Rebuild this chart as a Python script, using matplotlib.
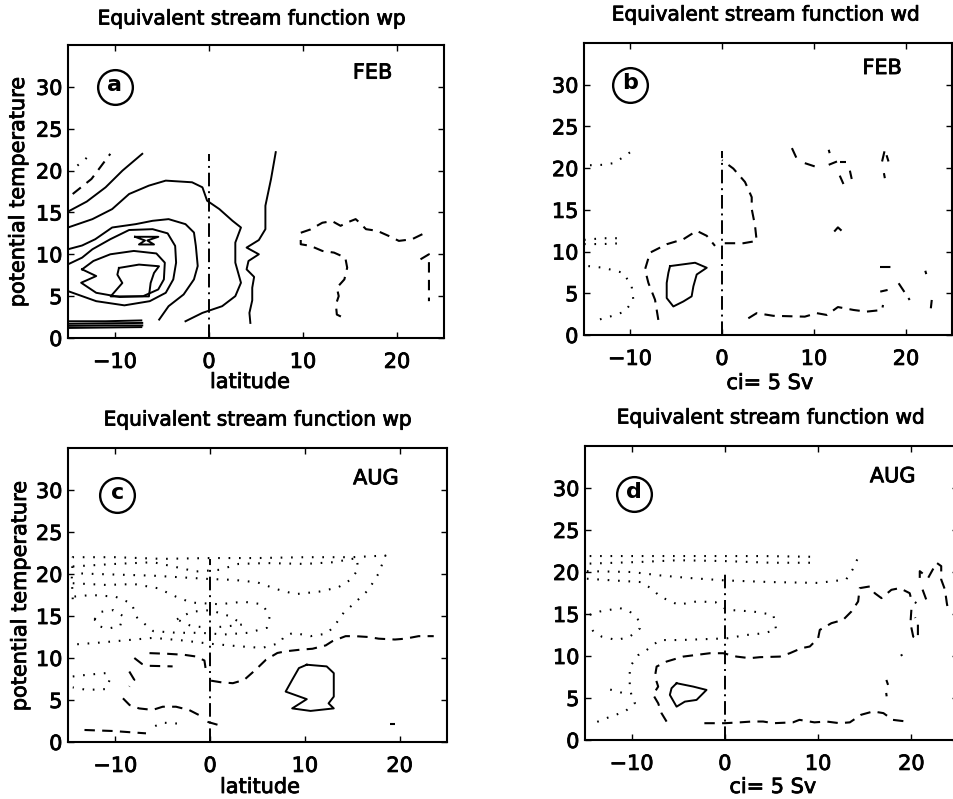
import matplotlib
matplotlib.use('Agg')
import matplotlib.pyplot as plt
import matplotlib.patheffects as pe
import numpy as np

plt.rcParams['font.family'] = ['DejaVu Sans']

W, H = 954, 799

# ---------------- data: contour lines (lat, theta) ----------------
# panel a : wp, FEB
a_solid = [
    [(-15, 15.1), (-13, 16.3), (-11, 18), (-9.2, 20), (-7.1, 22)],
    [(-15, 13.2), (-12.4, 14.2), (-10.3, 15.4), (-8.5, 17.2), (-6.4, 18.2), (-4.6, 18.8), (-1.8, 18.6),
     (-0.7, 18.0), (-0.2, 16.4), (1.1, 15.4), (2.5, 14.0), (3.4, 13.2), (2.8, 11.4), (2.8, 9.0),
     (3.4, 6.6), (2.8, 5.0), (1.4, 3.8), (-0.7, 3.0), (-2.5, 2.0)],
    [(-15, 10.6), (-13.5, 11.05), (-12.1, 11.8), (-10.3, 13.2), (-7.8, 13.6), (-6.0, 14.0), (-4.3, 14.2),
     (-2.5, 13.6), (-1.6, 12.6), (-1.4, 11.0), (-1.2, 8.6), (-1.6, 7.0), (-2.7, 5.2), (-4.3, 3.8), (-5.3, 2.2)],
    [(-15, 8.8), (-13.5, 9.6), (-12.4, 10.6), (-10.5, 11.8), (-8.5, 12.9), (-6, 13.0), (-4.4, 12.5),
     (-3.6, 11), (-3.5, 9), (-3.8, 7), (-4.6, 5.4), (-6.3, 4.4), (-9, 3.9), (-12, 4.4), (-15, 5.6)],
    [(-7.87, 12.09), (-5.39, 12.09), (-6.56, 11.65), (-5.85, 11.17), (-7.45, 11.17), (-6.81, 11.65), (-7.87, 12.09)],
    [(-13.5, 8.2), (-12.3, 9.2), (-10.5, 10.0), (-8, 10.4), (-5.6, 10.1), (-4.7, 9), (-4.8, 7), (-5.4, 5.8),
     (-7, 5), (-9.5, 4.9), (-12, 5.4), (-13.6, 6.6), (-12.0, 7.4), (-13.5, 8.2)],
    [(-9.58, 8.37), (-7.45, 8.77), (-5.32, 8.57), (-5.85, 7.77), (-6.21, 6.57), (-6.39, 4.97),
     (-10.46, 4.97), (-9.22, 6.57), (-9.75, 7.57), (-9.58, 8.37)],
    [(-15, 2.0), (-11, 2.0), (-7.2, 2.1)],
    [(-15, 1.7), (-11, 1.75), (-7.1, 1.8)],
    [(-15, 1.45), (-11, 1.5), (-7.1, 1.5)],
    [(-15, 1.2), (-11, 1.25), (-7.2, 1.3)],
    [(7.1, 22.2), (6.6, 19), (6.0, 15.8), (6.0, 13), (5.3, 11.7), (4.0, 10.8), (5.3, 10.0), (4.2, 9.2),
     (4.0, 8.2), (4.8, 7.3), (4.6, 6.0), (4.6, 4.5), (4.3, 3.0), (4.4, 1.8)],
]
a_dashed = [
    [(-14.5, 17.2), (-12.5, 19), (-10.5, 22)],
    [(22.7, 12.4), (21.6, 11.8), (20.2, 11.6), (19.1, 12.2), (17.9, 12.8), (16.7, 13.0), (16.0, 13.8),
     (15.6, 14.2), (14.7, 13.8), (14.0, 13.4), (13.1, 13.96), (12.06, 13.77), (10.8, 12.97), (9.76, 12.57),
     (9.76, 11.2), (10.8, 11.0), (12.06, 10.4), (13.3, 10.2), (14.5, 9.6), (14.7, 8.4), (14.4, 7.0),
     (13.6, 6.0), (13.8, 5.0), (13.5, 4.0), (13.6, 2.8), (14.7, 2.2)],
    [(22.5, 9.4), (23.4, 10.0), (23.4, 8.4), (23.4, 5.4), (23.4, 4.4)],
]
a_dotted = [
    [(-14, 20.6), (-13.3, 21.2), (-12.6, 22)],
]

# panel b : wd, FEB
b_solid = [
    [(-5.65, 8.26), (-2.93, 8.66), (-1.66, 8.06), (-2.75, 7.25), (-3.11, 5.84), (-3.3, 4.63), (-4.2, 4.02),
     (-5.29, 3.42), (-6.01, 4.43), (-6.01, 6.24), (-5.83, 7.45), (-5.65, 8.26)],
]
b_dashed = [
    [(-6.92, 1.81), (-7.28, 4.23), (-8.0, 6.24), (-8.37, 7.85), (-7.82, 9.87), (-6.01, 10.88), (-4.2, 11.48),
     (-2.75, 12.49), (-1.66, 11.89), (-0.76, 10.68)],
    [(0.3, 11.0), (2.32, 11.0), (3.77, 11.28), (3.59, 13.1), (3.23, 15.11), (3.23, 16.52), (2.5, 18.34),
     (1.23, 19.95), (0.0, 20.96)],
    [(2.86, 2.0), (3.77, 2.62), (5.58, 2.3), (9.0, 2.2), (10.3, 2.62), (11.4, 2.4), (12.6, 3.35),
     (14.3, 3.0), (15.7, 2.8), (17.4, 3.0), (17.5, 3.6)],
    [(17.2, 8.2), (18.6, 8.2)],
    [(17.2, 5.2), (18.0, 5.4)],
    [(19.2, 6.2), (20.4, 4.2)],
    [(22.8, 4.2), (22.7, 3.2)],
    [(22.1, 7.7), (22.2, 7.3)],
    [(7.6, 22.4), (8.1, 21.2)],
    [(9.0, 20.6), (10.1, 20.2)],
    [(11.6, 20.4), (12.5, 20.8)],
    [(12.8, 20.7), (13.5, 20.7)],
    [(12.8, 19.1), (13.2, 18.1)],
    [(13.9, 19.7), (14.1, 18.7)],
    [(11.6, 22.2), (11.7, 21.8)],
    [(17.4, 20.8), (17.7, 22.2), (18.1, 20.8)],
    [(17.6, 19.4), (17.7, 18.8)],
    [(12.2, 12.4), (12.6, 12.9), (13.1, 12.4)],
]
b_dotted = [
    [(-14.35, 20.35), (-12.9, 20.4), (-11.8, 20.6), (-10.9, 21.2), (-9.6, 22.2)],
    [(-15, 11.4), (-13, 11.6), (-10.8, 11.6)],
    [(-15, 10.9), (-13, 10.9), (-10.8, 11.0)],
    [(-14.53, 8.26), (-12.9, 8.06), (-10.72, 7.45), (-9.82, 5.84), (-9.64, 4.23), (-10.54, 2.81),
     (-12.17, 2.21), (-14.17, 1.6)],
]

# panel c : wp, AUG
c_solid = [
    [(10.2, 9.2), (12.3, 9.0), (13.05, 8.2), (13.05, 5.4), (12.5, 4.6), (13.05, 4.0), (10.6, 3.7),
     (8.66, 4.0), (10.2, 5.1), (7.97, 6.0), (8.66, 7.4), (9.37, 8.8), (10.2, 9.2)],
]
c_dashed = [
    [(-13.26, 1.43), (-10.28, 1.31), (-6.77, 1.03)],
    [(-8.0, 10.0), (-7.2, 9.3), (-6.4, 9.07), (-3.96, 9.0)],
    [(-6.4, 10.58), (-4.5, 10.5), (-2.74, 10.38), (-1.5, 10.18), (-0.6, 9.7), (-0.46, 8.6)],
    [(-8.53, 8.39), (-8.0, 7.4), (-8.53, 6.6)],
    [(-9.2, 5.2), (-8.5, 4.4), (-7.5, 4.0), (-6.07, 3.82), (-5.0, 4.2), (-3.6, 4.2), (-2.2, 3.8), (-1.16, 3.2)],
    [(-0.28, 2.4), (0.95, 2.0)],
    [(0.1, 7.3), (1.2, 7.1), (2.4, 7.0), (3.6, 7.4), (4.8, 8.6), (5.9, 9.8), (7.1, 10.6), (8, 10.8),
     (9.6, 11.0), (10.8, 11.1), (12.2, 11.5), (12.9, 12), (14.3, 12.6), (15.3, 12.6), (16.7, 12.5),
     (17.8, 12.3), (19.5, 12.2), (20.6, 12.3), (22, 12.6), (23.6, 12.6)],
    [(19.0, 2.1), (19.5, 2.1)],
]
c_dotted = [
    [(-14.5, 17.0), (-14.6, 19.5), (-14.5, 22.0), (-10, 22.0), (-5, 21.8), (0, 21.9), (5, 21.9), (10, 22.0),
     (15, 22.0), (18.5, 22.2), (17.8, 20.1), (16.7, 18.1), (15.3, 16.6), (14.1, 15.4), (13.1, 13.8),
     (12.3, 12.9), (10.6, 12.6), (8.8, 13.0), (7.8, 12.6), (7.4, 11.8), (5.5, 11.2), (3, 11.4), (0, 11.7),
     (-3, 12.1), (-6, 12.4), (-9, 12.1), (-12, 11.8), (-14.5, 11.6)],
    [(-14.5, 20.9), (-10, 21.2), (-6, 21.4), (-3.5, 20.8), (-1.5, 20.3), (1, 20.5), (3, 21.2), (6, 21.3),
     (10, 21.2), (13, 21.4), (15.5, 21.9), (15.6, 20.5), (14.8, 19.3), (13.5, 18.4), (11.5, 17.9), (9, 17.6),
     (7, 18.2), (5, 19.0), (2.5, 19.3), (0, 19.4), (-3, 19.6), (-6, 19.8), (-9, 19.9), (-12, 20.0), (-14.5, 20.1)],
    [(-14.5, 18.9), (-11, 18.7), (-8, 18.8), (-5.5, 18.3), (-3.6, 17.3), (-2, 16.6), (1, 16.4), (3.5, 16.7),
     (5.5, 16.4), (6.3, 15.0), (6.0, 13.6), (4, 13.0), (1.5, 12.8), (-1, 13.0), (-3.5, 13.0), (-6, 13.2),
     (-7.7, 14.8), (-8.3, 16.5), (-10, 17.3), (-12.5, 17.5), (-14.5, 17.3)],
    [(-12.2, 14.6), (-11.5, 15.5), (-10.2, 15.7), (-9.2, 15), (-9.5, 13.8), (-10.8, 13.5), (-11.8, 13.8), (-12.2, 14.6)],
    [(-3.5, 14.6), (-2, 15.5), (0, 15.7), (2, 15), (3.5, 14), (2, 13.8), (0, 13.6), (-2, 13.8), (-3.5, 14.6)],
    [(-14.5, 7.8), (-13, 8.0), (-11, 8.2), (-10.6, 7.4), (-11, 6.3), (-13, 6.2), (-14.5, 6.5)],
    [(-5.8, 1.9), (-5, 2.3), (-3.5, 2.2), (-2.8, 2.0)],
]

# panel d : wd, AUG
d_solid = [
    [(-5.18, 6.76), (-3.4, 6.36), (-1.97, 5.96), (-3.04, 4.77), (-4.29, 4.57), (-5.18, 3.97), (-5.9, 5.37),
     (-5.72, 6.16), (-5.18, 6.76)],
]
d_dashed = [
    [(-6.25, 2.19), (-6.8, 3.2), (-7.15, 4.37), (-7.7, 5.4), (-7.15, 6.36), (-7.5, 7.55), (-7.32, 8.74),
     (-6.25, 9.34), (-4.47, 9.93), (-3.04, 10.13), (-1.61, 10.33), (-0.18, 10.33), (1.25, 9.93), (2.68, 9.74),
     (3.75, 9.86), (5.9, 9.93), (6.96, 10.33), (8.21, 10.93), (9.11, 11.13), (10.0, 12.12), (10.18, 13.11),
     (11.43, 13.91), (12.68, 14.3), (13.57, 15.3), (14.29, 16.49), (14.46, 18.08), (15.54, 18.28),
     (16.07, 17.48), (16.79, 16.89), (17.86, 17.88), (18.75, 18.08), (19.82, 17.48), (20.0, 16.69), (20.54, 16.29)],
    [(-2.2, 2.0), (-1, 2.0), (0, 2.0), (1.6, 2.1), (2.9, 2.2), (4.1, 2.2), (5.2, 2.0), (7.3, 2.1), (8, 2.4),
     (9.6, 2.1), (10.9, 2.2), (12.3, 2.0), (13.4, 2.1), (14.6, 3.0), (15.9, 3.4), (17, 3.2), (18, 2.4), (19.5, 2.2)],
    [(20.0, 15.5), (19.9, 13.9), (20.2, 12.3), (20.7, 12.1), (20.7, 13.9), (20.4, 14.6)],
    [(20.9, 19.3), (20.9, 20.1), (21.8, 19.3), (22.7, 21.1), (23.2, 20.7), (23.2, 19.1), (23.6, 17.9),
     (23.8, 16.3), (23.9, 15.7)],
    [(21.2, 17.9), (21.6, 16.7)],
    [(18.9, 10.2), (19.0, 10.0)],
    [(17.32, 7.15), (17.5, 6.56)],
    [(17.3, 5.6), (17.35, 5.2)],
]
d_dotted = [
    [(-14.5, 21.9), (-8, 21.9), (-2, 21.9), (4, 21.9), (10, 21.8)],
    [(-14.5, 21.0), (-9, 21.2), (-5, 21.4), (0, 21.3), (5, 21.1), (9.5, 21.1)],
    [(-14.8, 20.1), (-10, 20), (-7, 19.6), (-4, 19.3), (0, 19.0), (5, 18.8), (10, 18.7), (13, 19.1),
     (13.7, 20.3), (14.4, 22)],
    [(-14.8, 19.2), (-12, 19.0), (-9, 18.8), (-7.7, 17.9), (-7, 17.1), (-5, 16.1), (-3, 16.5), (-1, 16.4),
     (0.2, 15.5), (3, 15.3), (5.2, 14.9), (5.5, 13.1), (4.1, 12.7), (2.3, 12.5), (0.2, 12.1), (-2.3, 12.0),
     (-4.8, 11.9), (-7.0, 11.9), (-8.4, 10.7), (-9.3, 10.1), (-10.2, 8.7), (-10.2, 7.5), (-10.2, 6.4),
     (-10.0, 5.2), (-9.65, 4.4), (-10.7, 3.4), (-12.7, 2.6), (-14.5, 1.8)],
    [(-14.5, 14.9), (-13.4, 15.3), (-11.25, 15.7), (-10.2, 15.3), (-9.1, 14.1), (-9.1, 13.3), (-10.2, 12.3),
     (-11.6, 11.9), (-13.2, 12.3), (-14.1, 12.9), (-14.6, 13.9)],
    [(-12.3, 6.0), (-11.5, 5.8), (-10.9, 5.56)],
]

xticks = [-10, 0, 10, 20]
yticks = [0, 5, 10, 15, 20, 25, 30]

heavy = [pe.withStroke(linewidth=0.6, foreground='k')]


def px_axes(left, right, top, bottom):
    return fig.add_axes([left / W, 1 - bottom / H, (right - left) / W, (bottom - top) / H])


def draw(ax, solid, dashed, dotted, eq_top, letter, circ, month, mpos):
    for ln in solid:
        x, y = np.array(ln).T
        ax.plot(x, y, color='k', lw=1.4)
    for ln in dashed:
        x, y = np.array(ln).T
        ax.plot(x, y, color='k', lw=1.5, linestyle=(0, (5, 3.5)))
    for ln in dotted:
        x, y = np.array(ln).T
        ax.plot(x, y, color='k', lw=1.5, linestyle=(0, (0.8, 4.2)))
    ax.plot([0, 0], [0, eq_top], color='k', lw=1.4, linestyle=(0, (7, 2.5, 1, 2.5)))
    ax.plot(circ[0], circ[1], marker='o', ms=25, mfc='none', mec='k', mew=1.7)
    ax.text(circ[0], circ[1] + 0.2, letter, ha='center', va='center', fontsize=16, fontweight='bold')
    ax.text(mpos[0], mpos[1], month, ha='center', va='center', fontsize=15, path_effects=heavy)
    ax.set_xlim(-15, 25)
    ax.set_ylim(0, 35)
    ax.set_xticks(xticks)
    ax.set_yticks(yticks)
    ax.tick_params(direction='in', top=True, right=True, length=4, width=1, labelsize=15)
    ax.tick_params(axis='x', pad=10)
    ax.tick_params(axis='y', pad=4)
    for lab in ax.get_xticklabels() + ax.get_yticklabels():
        lab.set_path_effects(heavy)
    for s in ax.spines.values():
        s.set_linewidth(1.5)


fig = plt.figure(figsize=(W / 100, H / 100), dpi=100)

ax_a = px_axes(68, 444, 45, 338)
ax_b = px_axes(584, 952, 43, 335)
ax_c = px_axes(68, 447, 448, 742)
ax_d = px_axes(585, 958, 446, 740)

draw(ax_a, a_solid, a_dashed, a_dotted, 22, 'a', (-10, 30), 'FEB', (17.4, 31.7))
draw(ax_b, b_solid, b_dashed, b_dotted, 22, 'b', (-10, 30), 'FEB', (17.4, 32.0))
draw(ax_c, c_solid, c_dashed, c_dotted, 21.8, 'c', (-9.8, 29.4), 'AUG', (17.5, 31.4))
draw(ax_d, d_solid, d_dashed, d_dotted, 20, 'd', (-9.7, 29.3), 'AUG', (18.0, 31.4))


def label(x, y, s, size=15, rot=0):
    fig.text(x / W, 1 - y / H, s, ha='center', va='center', fontsize=size, rotation=rot, path_effects=heavy)


label(252, 19, 'Equivalent stream function wp', 14.5)
label(766, 15, 'Equivalent stream function wd', 14.5)
label(258, 420, 'Equivalent stream function wp', 14.5)
label(771, 418, 'Equivalent stream function wd', 14.5)

label(250, 382, 'latitude')
label(260, 787, 'latitude')
label(770, 383, 'ci= 5 Sv')
label(773, 787, 'ci= 5 Sv')

label(18, 192, 'potential temperature', rot=90)
label(20, 596, 'potential temperature', rot=90)

fig.savefig('out.png', dpi=100)
